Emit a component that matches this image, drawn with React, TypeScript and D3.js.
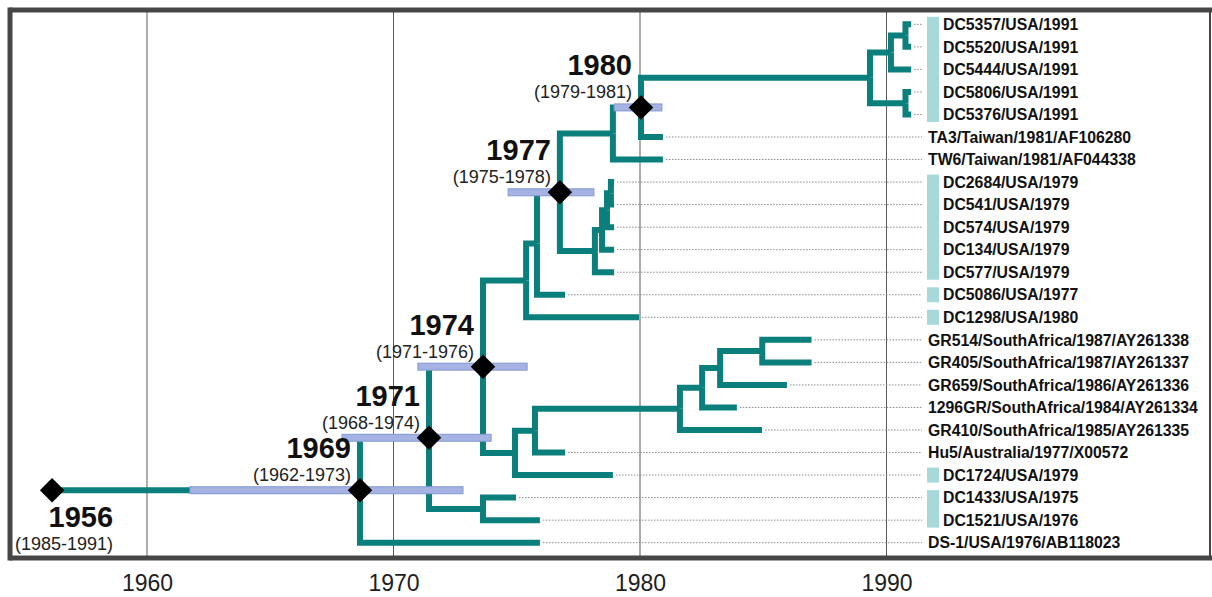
import React, { useEffect, useRef } from 'react';
import * as d3 from 'd3';

// internal nodes: [id, parent, year]
const internalNodes: [string, string, number][] = [
  ['root', '', 1956.15],
  ['n1969', 'root', 1968.64],
  ['n1971', 'n1969', 1971.44],
  ['n1974', 'n1971', 1973.63],
  ['A', 'n1974', 1975.38],
  ['B', 'A', 1975.82],
  ['n1977', 'B', 1976.75],
  ['C', 'n1977', 1978.9],
  ['n1980', 'C', 1980.04],
  ['E', 'n1980', 1989.33],
  ['F', 'E', 1990.18],
  ['G', 'F', 1990.77],
  ['H', 'E', 1990.77],
  ['D', 'n1977', 1978.17],
  ['S', 'D', 1978.46],
  ['R', 'S', 1978.66],
  ['Q', 'R', 1978.82],
  ['K', 'n1974', 1974.93],
  ['L', 'K', 1975.74],
  ['M', 'L', 1981.62],
  ['N', 'M', 1982.52],
  ['O', 'N', 1983.25],
  ['P', 'O', 1984.96],
  ['T', 'n1971', 1973.63]
];

// tips, top to bottom: [name, parent, year]
const tips: [string, string, number][] = [
  ['DC5357/USA/1991', 'G', 1991.0],
  ['DC5520/USA/1991', 'G', 1991.0],
  ['DC5444/USA/1991', 'F', 1991.0],
  ['DC5806/USA/1991', 'H', 1991.0],
  ['DC5376/USA/1991', 'H', 1991.0],
  ['TA3/Taiwan/1981/AF106280', 'n1980', 1980.93],
  ['TW6/Taiwan/1981/AF044338', 'C', 1980.93],
  ['DC2684/USA/1979', 'Q', 1978.95],
  ['DC541/USA/1979', 'Q', 1978.95],
  ['DC574/USA/1979', 'R', 1978.95],
  ['DC134/USA/1979', 'S', 1978.95],
  ['DC577/USA/1979', 'D', 1978.95],
  ['DC5086/USA/1977', 'B', 1976.96],
  ['DC1298/USA/1980', 'A', 1979.96],
  ['GR514/SouthAfrica/1987/AY261338', 'P', 1986.96],
  ['GR405/SouthAfrica/1987/AY261337', 'P', 1986.96],
  ['GR659/SouthAfrica/1986/AY261336', 'O', 1985.96],
  ['1296GR/SouthAfrica/1984/AY261334', 'N', 1983.93],
  ['GR410/SouthAfrica/1985/AY261335', 'M', 1984.95],
  ['Hu5/Australia/1977/X00572', 'L', 1976.96],
  ['DC1724/USA/1979', 'K', 1978.9],
  ['DC1433/USA/1975', 'T', 1974.97],
  ['DC1521/USA/1976', 'T', 1975.94],
  ['DS-1/USA/1976/AB118023', 'n1969', 1975.94]
];

// shaded groups of tips: [first, last]
const highlightGroups: [string, string][] = [
  ['DC5357/USA/1991', 'DC5376/USA/1991'],
  ['DC2684/USA/1979', 'DC577/USA/1979'],
  ['DC5086/USA/1977', 'DC5086/USA/1977'],
  ['DC1298/USA/1980', 'DC1298/USA/1980'],
  ['DC1724/USA/1979', 'DC1724/USA/1979'],
  ['DC1433/USA/1975', 'DC1521/USA/1976']
];

// dated nodes with their labels and HPD intervals
const datedNodes = [
  { id: 'root', label: '1956', range: '(1985-1991)', hpd: null },
  { id: 'n1969', label: '1969', range: '(1962-1973)', hpd: [1961.74, 1972.82] },
  { id: 'n1971', label: '1971', range: '(1968-1974)', hpd: [1967.91, 1973.96] },
  { id: 'n1974', label: '1974', range: '(1971-1976)', hpd: [1970.99, 1975.42] },
  { id: 'n1977', label: '1977', range: '(1975-1978)', hpd: [1974.65, 1978.13] },
  { id: 'n1980', label: '1980', range: '(1979-1981)', hpd: [1978.95, 1980.89] }
];

const axisTicks = [1960, 1970, 1980, 1990];

const width = 1212;
const height = 597;
const frame = { l: 10, t: 10, r: 1210, b: 558 };
const teal = '#0a7f7c';
const font = '"Liberation Sans", Arial, Helvetica, sans-serif';

const Tree = () => {
  const container = useRef(null);

  useEffect(() => {
    const svg = d3.select(container.current);
    svg.selectAll('*').remove();

    const x = d3.scaleLinear().domain([1960, 1990]).range([147, 886.5]);
    const row = d3.scaleLinear().domain([0, tips.length - 1]).range([24.3, 542.7]);

    const table = [...internalNodes, ...tips].map(([id, parent, year]) => ({ id, parent, year }));
    const root: any = d3
      .stratify<any>()
      .id(d => d.id)
      .parentId(d => (d.parent ? d.parent : null))(table);

    const tipIndex = new Map(tips.map((t, i) => [t[0], i]));
    root.eachAfter((n: any) => {
      n.px = x(n.data.year);
      if (!n.children) n.py = row(tipIndex.get(n.id));
      else n.py = (d3.min(n.children, (c: any) => c.py) + d3.max(n.children, (c: any) => c.py)) / 2;
    });
    const byId = new Map(root.descendants().map((n: any) => [n.id, n]));

    // grid
    svg
      .append('g')
      .selectAll('line')
      .data(axisTicks)
      .join('line')
      .attr('x1', d => x(d))
      .attr('x2', d => x(d))
      .attr('y1', frame.t)
      .attr('y2', frame.b + 2)
      .attr('stroke', '#5a5a5a')
      .attr('stroke-width', 1);

    // dotted leaders
    svg
      .append('g')
      .selectAll('line')
      .data(root.leaves())
      .join('line')
      .attr('x1', (d: any) => d.px + 3)
      .attr('x2', 922)
      .attr('y1', (d: any) => d.py)
      .attr('y2', (d: any) => d.py)
      .attr('stroke', '#8a8a8a')
      .attr('stroke-width', 1)
      .attr('stroke-dasharray', '1.5 1.5');

    // branches
    svg
      .append('g')
      .selectAll('path')
      .data(root.links())
      .join('path')
      .attr('d', (l: any) => `M${l.source.px},${l.source.py}V${l.target.py}H${l.target.px}`)
      .attr('fill', 'none')
      .attr('stroke', teal)
      .attr('stroke-width', 6)
      .attr('stroke-linejoin', 'miter');

    // HPD bars
    svg
      .append('g')
      .selectAll('rect')
      .data(datedNodes.filter(d => d.hpd))
      .join('rect')
      .attr('x', (d: any) => x(d.hpd[0]))
      .attr('width', (d: any) => x(d.hpd[1]) - x(d.hpd[0]))
      .attr('y', d => (byId.get(d.id) as any).py - 3.5)
      .attr('height', 7)
      .attr('fill', '#a4b3e1')
      .attr('stroke', '#8598d3')
      .attr('stroke-width', 1);

    // diamonds
    const diamond = d3.symbol().type(d3.symbolSquare).size(300);
    svg
      .append('g')
      .selectAll('path')
      .data(datedNodes)
      .join('path')
      .attr('d', diamond)
      .attr('transform', d => {
        const n: any = byId.get(d.id);
        return `translate(${n.px},${n.py}) rotate(45)`;
      })
      .attr('fill', '#000');

    // node labels
    const nl = svg
      .append('g')
      .attr('font-family', font)
      .attr('text-anchor', 'end')
      .selectAll('g')
      .data(datedNodes)
      .join('g')
      .attr('transform', d => {
        const n: any = byId.get(d.id);
        return n.depth === 0 ? `translate(${n.px + 61},${n.py + 69})` : `translate(${n.px - 9},${n.py})`;
      });
    nl.append('text')
      .attr('y', -32)
      .attr('font-size', 29)
      .attr('font-weight', 'bold')
      .attr('fill', '#111')
      .text(d => d.label);
    nl.append('text')
      .attr('y', -9)
      .attr('font-size', 18)
      .attr('fill', '#222')
      .text(d => d.range);

    // highlight bars
    svg
      .append('g')
      .selectAll('rect')
      .data(highlightGroups)
      .join('rect')
      .attr('x', 927)
      .attr('width', 12)
      .attr('y', d => row(tipIndex.get(d[0])) - 7.5)
      .attr('height', d => row(tipIndex.get(d[1])) - row(tipIndex.get(d[0])) + 15)
      .attr('fill', '#a7d9da');

    const highlighted = new Set<string>();
    highlightGroups.forEach(([a, b]) => {
      for (let i = tipIndex.get(a); i <= tipIndex.get(b); i++) highlighted.add(tips[i][0]);
    });

    // tip labels
    svg
      .append('g')
      .attr('font-family', font)
      .attr('font-weight', 'bold')
      .attr('font-size', 15.8)
      .attr('fill', '#111')
      .selectAll('text')
      .data(tips)
      .join('text')
      .attr('x', d => (highlighted.has(d[0]) ? 943 : 928))
      .attr('y', (d, i) => row(i))
      .attr('dy', '0.36em')
      .text(d => d[0]);

    // frame
    const fr = svg.append('g').attr('stroke', '#464646');
    fr.append('line').attr('x1', frame.l).attr('x2', frame.l).attr('y1', frame.t - 2.5).attr('y2', frame.b + 2.5).attr('stroke-width', 5);
    fr.append('line').attr('x1', frame.l).attr('x2', width).attr('y1', frame.t).attr('y2', frame.t).attr('stroke-width', 5);
    fr.append('line').attr('x1', frame.l).attr('x2', width).attr('y1', frame.b).attr('y2', frame.b).attr('stroke-width', 5);
    fr.append('line').attr('x1', frame.r).attr('x2', frame.r).attr('y1', frame.t).attr('y2', frame.b).attr('stroke-width', 2);

    // axis labels
    const xAxis = d3
      .axisBottom(x)
      .tickValues(axisTicks)
      .tickFormat(d3.format('d'))
      .tickSize(0)
      .tickPadding(17);
    const ax = svg.append('g').attr('transform', `translate(0,${frame.b})`).call(xAxis);
    ax.select('.domain').remove();
    ax.attr('font-family', font).attr('font-size', 23);
    ax.selectAll('text').attr('fill', '#1e1e1e');
  }, []);

  return (
    <svg
      ref={container}
      width={width}
      height={height}
      style={{ position: 'absolute', left: 0, top: 0, background: '#fff' }}
    />
  );
};

export default function App() {
  return <Tree />;
}
